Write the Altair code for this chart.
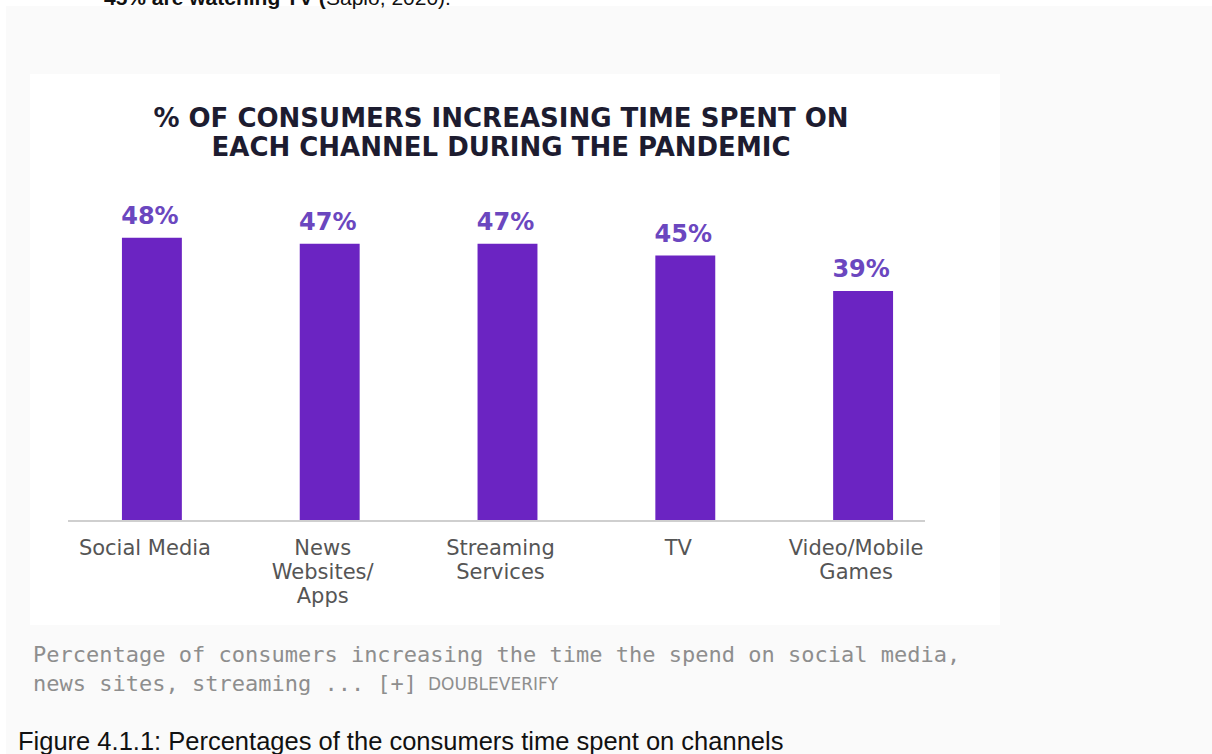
import altair as alt
import pandas as pd

# ---- data ----
categories = ["Social Media", "News Websites/Apps", "Streaming Services", "TV", "Video/Mobile Games"]
label_lines = ["Social Media", "News|Websites/|Apps", "Streaming|Services", "TV", "Video/Mobile|Games"]
values = [48, 47, 47, 45, 39]
value_labels = ["48%", "47%", "47%", "45%", "39%"]

title_lines = ["% OF CONSUMERS INCREASING TIME SPENT ON", "EACH CHANNEL DURING THE PANDEMIC"]
caption_line1 = "Percentage of consumers increasing the time the spend on social media,"
caption_line2 = "news sites, streaming ... [+]"
caption_source = "DOUBLEVERIFY"
figure_caption = "Figure 4.1.1: Percentages of the consumers time spent on channels"
top_text_bold = "45% are watching TV ("
top_text_reg = "Sapio, 2020)."

df = pd.DataFrame({"category": categories, "lab": label_lines, "value": values, "vlabel": value_labels})
one = pd.DataFrame({"k": [0]})

W, H = 1212, 754

x_scale = alt.Scale(domain=categories, range=[63, 952], paddingInner=0.663, paddingOuter=0.3315)
y_scale = alt.Scale(domain=[0, 50], range=[521, 226])

def box(x, x2, y, y2, color):
    return alt.Chart(one).mark_rect(color=color).encode(
        x=alt.value(x), x2=alt.value(x2), y=alt.value(y), y2=alt.value(y2))

def txt(text, x, y, **kw):
    return alt.Chart(one).mark_text(**kw).encode(
        x=alt.value(x), y=alt.value(y), text=alt.value(text))

bg = box(6, W, 6, H, "#fafafa")
card = box(30, 1000, 74, 625, "#ffffff")

title = txt(title_lines, 501, 127, font="DejaVu Sans", fontSize=26, fontWeight="bold",
            color="#1d1c30", align="center", baseline="alphabetic", lineHeight=29)

base = alt.Chart(df)
bars = base.mark_bar(color="#6b24c2").encode(
    x=alt.X("category:N", scale=x_scale, axis=None, sort=categories),
    y=alt.Y("value:Q", scale=y_scale, axis=None),
)
vlab = base.mark_text(font="DejaVu Sans", fontSize=24, fontWeight="bold", color="#6b47bf",
                      baseline="alphabetic", dy=-14, dx=-2).encode(
    x=alt.X("category:N", scale=x_scale, axis=None, sort=categories),
    y=alt.Y("value:Q", scale=y_scale, axis=None),
    text="vlabel:N",
)
baseline_rule = alt.Chart(one).mark_rule(color="#cfcfcf", strokeWidth=2).encode(
    x=alt.value(68), x2=alt.value(925), y=alt.value(521))

clab = base.transform_calculate(lines="split(datum.lab, '|')").mark_text(
    font="DejaVu Sans", fontSize=21, color="#555555", baseline="top", lineHeight=24, dx=-7).encode(
    x=alt.X("category:N", scale=x_scale, axis=None, sort=categories),
    y=alt.value(538),
    text="lines:N",
)

cap_font = "DejaVu Sans Mono"
cap1 = txt(caption_line1, 33, 662, font=cap_font, fontSize=22, color="#8e8e8e", align="left",
           baseline="alphabetic")
cap2 = txt(caption_line2, 33, 691, font=cap_font, fontSize=22, color="#8e8e8e", align="left",
           baseline="alphabetic")
cap3 = txt(caption_source, 428, 690, font="DejaVu Sans", fontSize=17, color="#8e8e8e", align="left",
           baseline="alphabetic")
fig = txt(figure_caption, 18, 750, font="Liberation Sans", fontSize=25.5,
          color="#111111", align="left", baseline="alphabetic")
top1 = txt(top_text_bold, 104, 5, font="Liberation Sans", fontSize=21, fontWeight="bold",
           color="#111111", align="left", baseline="alphabetic")
top2 = txt(top_text_reg, 326, 5, font="Liberation Sans", fontSize=21, color="#111111", align="left",
           baseline="alphabetic")

chart = alt.layer(bg, card, title, bars, baseline_rule, vlab, clab, cap1, cap2, cap3, fig, top1, top2).properties(
    width=W, height=H, padding=0, autosize=alt.AutoSizeParams(type="none"), background="#ffffff"
).configure_view(stroke=None)

chart.save("out.html", embed_options={"renderer": "svg", "actions": False})
